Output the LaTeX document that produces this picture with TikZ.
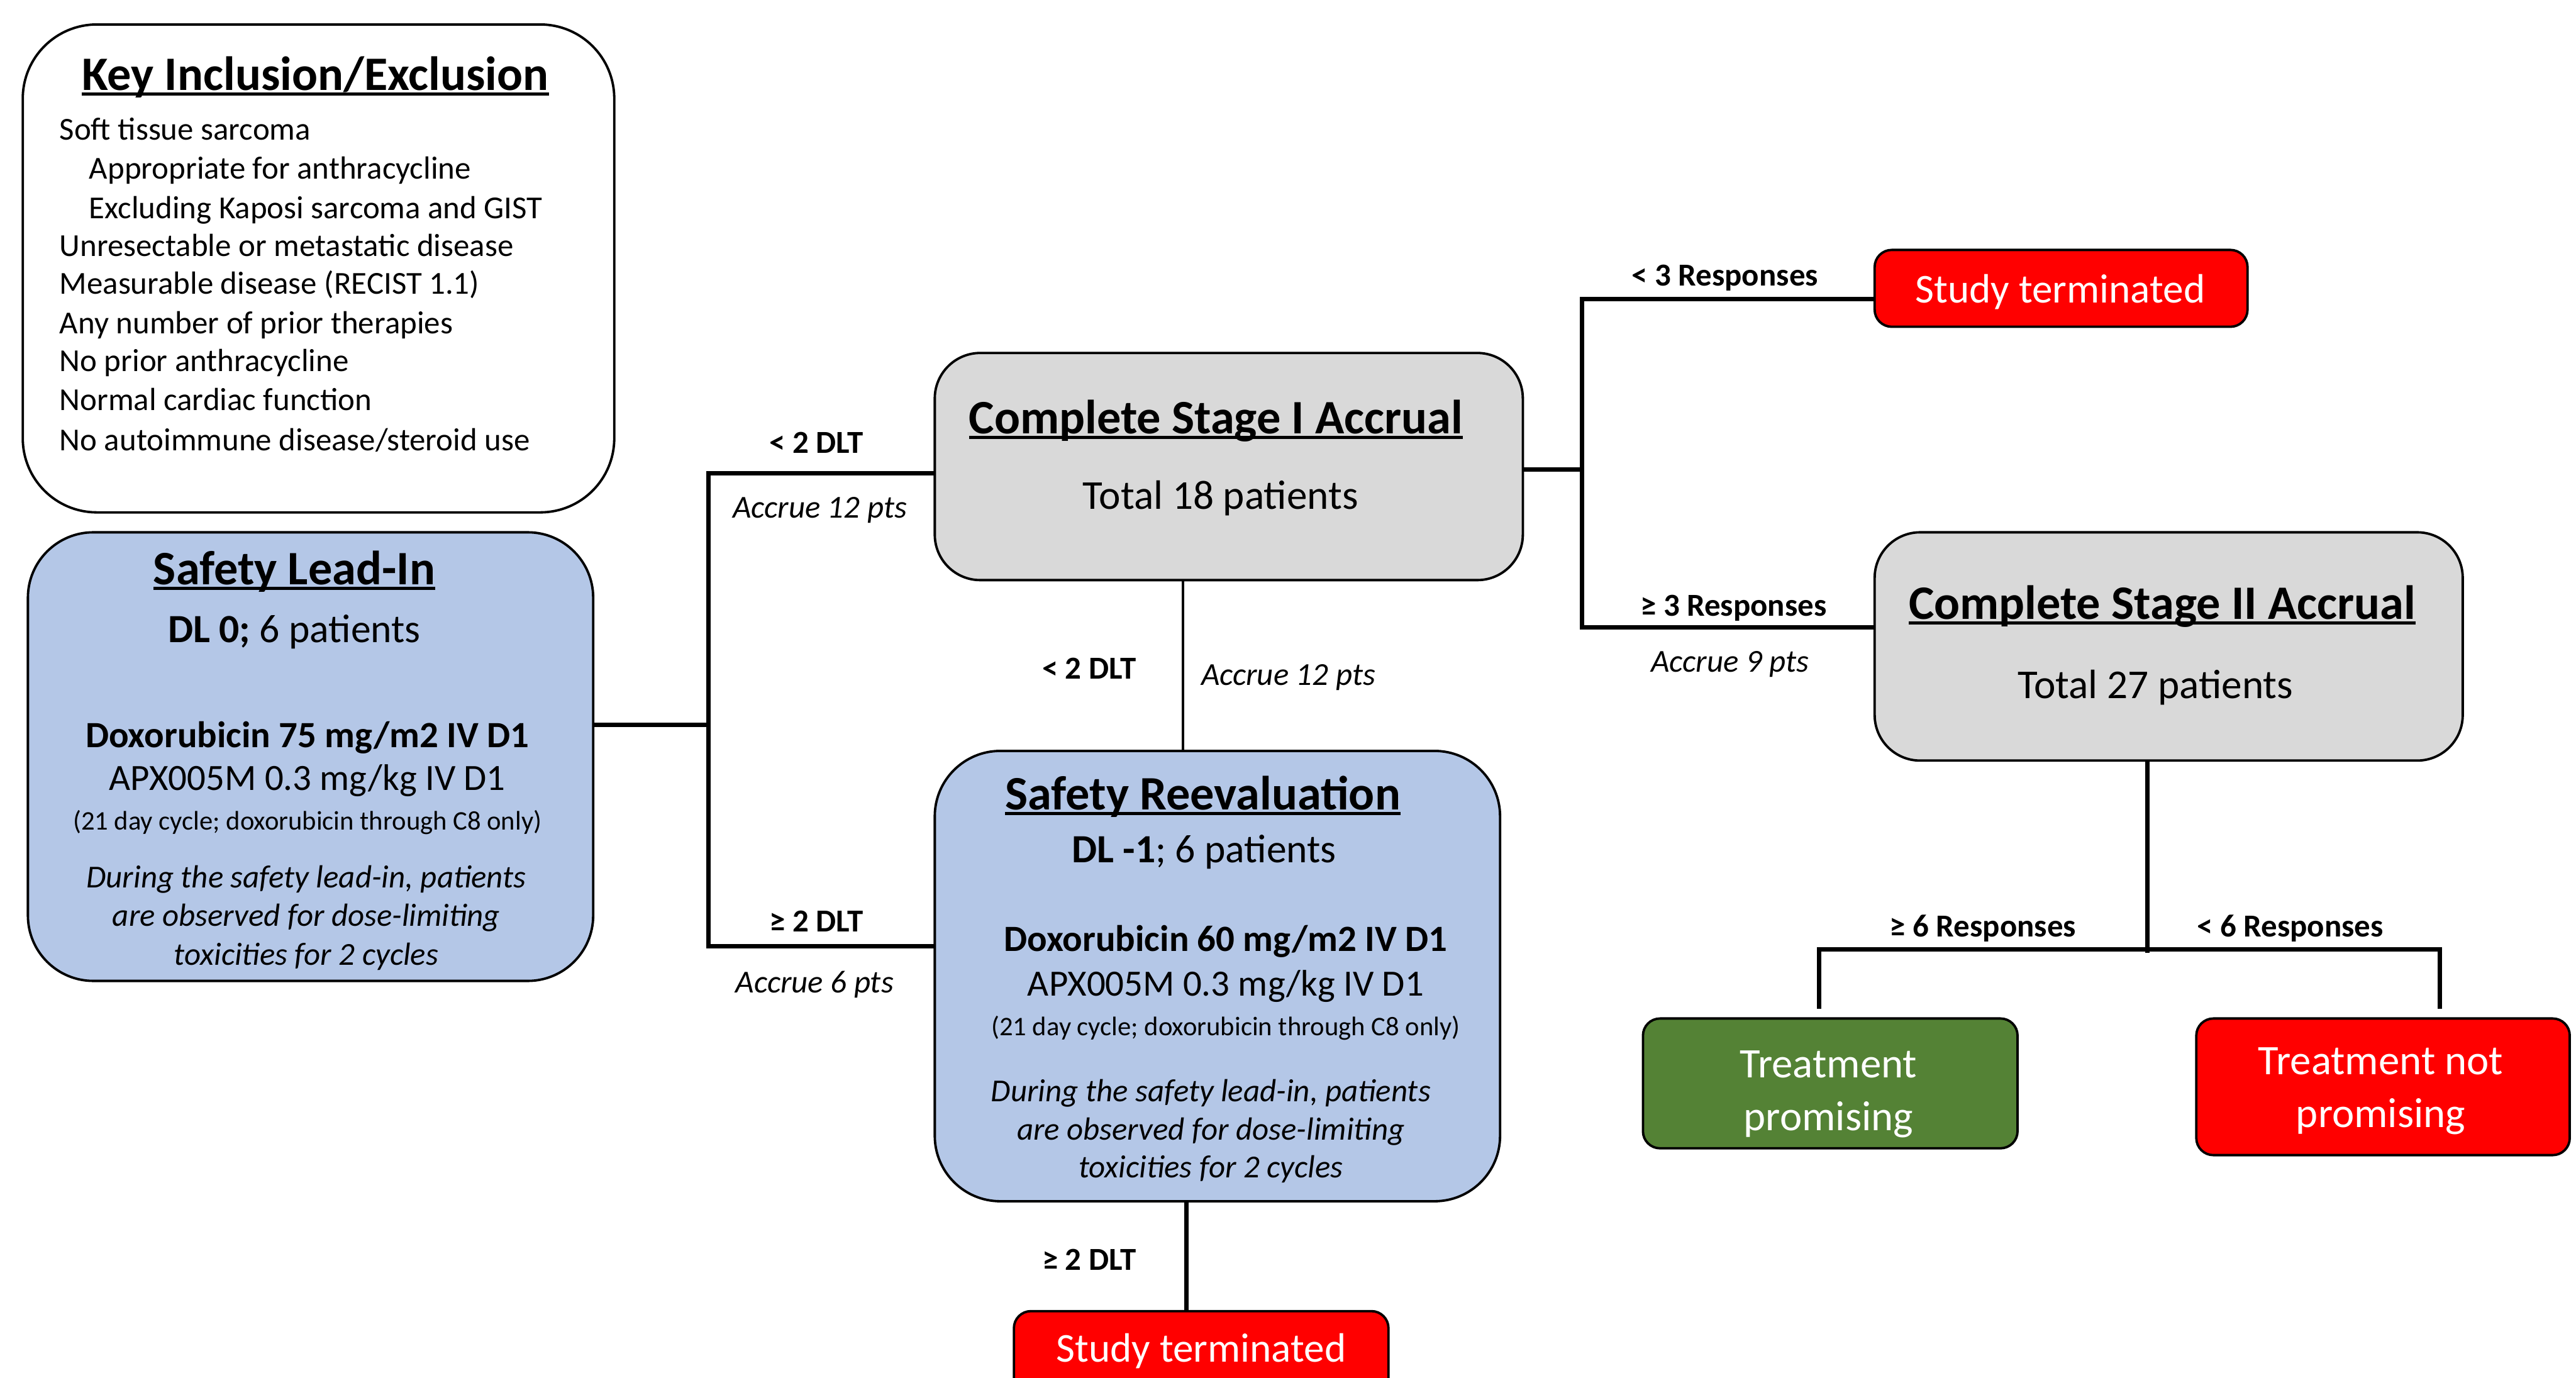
\documentclass[tikz,border=0pt]{standalone}
\usepackage{fontspec}
\setmainfont{Carlito}
\definecolor{boxblue}{HTML}{B4C7E7}
\definecolor{boxgray}{HTML}{D9D9D9}
\definecolor{boxred}{HTML}{FF0000}
\definecolor{boxgreen}{HTML}{548235}
\newcommand\myul[1]{\setbox0\hbox{#1}\rlap{\rule[-0.11em]{\wd0}{0.065em}}\box0}
\newcommand\fs[2]{\fontsize{#1}{#2}\selectfont}
\tikzset{
  box/.style={draw=black, line width=1.2pt, rounded corners=#1, inner sep=0pt, outer sep=0pt},
  conn/.style={draw=black, line width=2.2pt},
  thinconn/.style={draw=black, line width=1.4pt},
  txt/.style={inner sep=0pt, anchor=mid, align=center, yshift=-0.15cm},
  mtxt/.style={inner sep=0pt, anchor=center, align=center},
  ltxt/.style={inner sep=0pt, anchor=mid west, font=\fs{16}{19}, yshift=-0.12cm},
  lbl/.style={inner sep=0pt, anchor=mid, font=\fs{16}{19}\bfseries, yshift=-0.12cm},
  ilbl/.style={inner sep=0pt, anchor=mid, font=\fs{16}{19}\itshape, yshift=-0.12cm},
  ttl/.style={inner sep=0pt, anchor=mid, font=\fs{24}{29}\bfseries, yshift=-0.2cm},
}
\begin{document}
\begin{tikzpicture}
\useasboundingbox (0,0) rectangle (45.25,-24.20);
\fill[white] (0,0) rectangle (45.25,-24.20);

% boxes
\node[box=1.3cm, minimum width=10.39cm, minimum height=8.57cm] (key) at (5.595,-4.715) {};
\node[box=1.15cm, fill=boxblue, minimum width=9.93cm, minimum height=7.88cm] (lead) at (5.455,-13.29) {};
\node[box=0.8cm, fill=boxgray, minimum width=10.33cm, minimum height=3.99cm] (stage1) at (21.585,-8.195) {};
\node[box=1.15cm, fill=boxblue, minimum width=9.93cm, minimum height=7.91cm] (reeval) at (21.385,-17.145) {};
\node[box=0.3cm, fill=boxred, minimum width=6.58cm, minimum height=1.97cm] (term1) at (21.10,-24.015) {};
\node[box=0.3cm, fill=boxred, minimum width=6.55cm, minimum height=1.35cm] (term2) at (36.205,-5.065) {};
\node[box=0.8cm, fill=boxgray, minimum width=10.33cm, minimum height=4.01cm] (stage2) at (38.095,-11.355) {};
\node[box=0.3cm, fill=boxgreen, minimum width=6.58cm, minimum height=2.28cm] (prom) at (32.15,-19.03) {};
\node[box=0.3cm, fill=boxred, minimum width=6.56cm, minimum height=2.40cm] (notprom) at (41.86,-19.09) {};

% key inclusion text
\node[ttl] (keyt) at (5.54,-1.30) {\myul{Key Inclusion/Exclusion}};
\node[ltxt] (k1) at (1.04,-2.25) {Soft tissue sarcoma};
\node[ltxt] (k2) at (1.56,-2.94) {Appropriate for anthracycline};
\node[ltxt] (k3) at (1.56,-3.64) {Excluding Kaposi sarcoma and GIST};
\node[ltxt] (k4) at (1.04,-4.30) {Unresectable or metastatic disease};
\node[ltxt] (k5) at (1.04,-4.96) {Measurable disease (RECIST 1.1)};
\node[ltxt] (k6) at (1.04,-5.66) {Any number of prior therapies};
\node[ltxt] (k7) at (1.04,-6.32) {No prior anthracycline};
\node[ltxt] (k8) at (1.04,-7.01) {Normal cardiac function};
\node[ltxt] (k9) at (1.04,-7.71) {No autoimmune disease/steroid use};

% safety lead-in text
\node[ttl] (leadt) at (5.17,-9.99) {\myul{Safety Lead-In}};
\node[txt, font=\fs{20}{24}] (lead1) at (5.17,-11.05) {\textbf{DL 0;} 6 patients};
\node[txt, font=\fs{18.5}{22}\bfseries] (lead2) at (5.40,-12.90) {Doxorubicin 75 mg/m2 IV D1};
\node[txt, font=\fs{18.5}{22}] (lead3) at (5.40,-13.65) {APX005M 0.3 mg/kg IV D1};
\node[txt, font=\fs{13.4}{16}] (lead4) at (5.40,-14.34) {(21 day cycle; doxorubicin through C8 only)};
\node[mtxt, font=\fs{16}{19.35}\itshape] (lead5) at (5.38,-16.12) {During the safety lead-in, patients\\are observed for dose-limiting\\toxicities for 2 cycles};

% stage I text
\node[ttl] (s1t) at (21.36,-7.33) {\myul{Complete Stage I Accrual}};
\node[txt, font=\fs{20.5}{24}] (s1b) at (21.44,-8.71) {Total 18 patients};

% reevaluation text
\node[ttl] (ret) at (21.13,-13.94) {\myul{Safety Reevaluation}};
\node[txt, font=\fs{20}{24}] (re1) at (21.15,-14.92) {\textbf{DL -1}; 6 patients};
\node[txt, font=\fs{18.5}{22}\bfseries] (re2) at (21.53,-16.48) {Doxorubicin 60 mg/m2 IV D1};
\node[txt, font=\fs{18.5}{22}] (re3) at (21.53,-17.26) {APX005M 0.3 mg/kg IV D1};
\node[txt, font=\fs{13.4}{16}] (re4) at (21.53,-17.95) {(21 day cycle; doxorubicin through C8 only)};
\node[mtxt, font=\fs{16}{19.1}\itshape] (re5) at (21.27,-19.87) {During the safety lead-in, patients\\are observed for dose-limiting\\toxicities for 2 cycles};

% terminal texts
\node[txt, font=\fs{20.5}{24}, text=white] (t1t) at (21.10,-23.69) {Study terminated};
\node[txt, font=\fs{20.5}{24}, text=white] (t2t) at (36.19,-5.08) {Study terminated};
\node[ttl] (s2t) at (37.98,-10.59) {\myul{Complete Stage II Accrual}};
\node[txt, font=\fs{20.5}{24}] (s2b) at (37.86,-12.03) {Total 27 patients};
\node[mtxt, font=\fs{21}{26.4}, text=white] (pt) at (32.12,-19.22) {Treatment\\promising};
\node[mtxt, font=\fs{21}{26.4}, text=white] (npt) at (41.82,-19.16) {Treatment not\\promising};

% connectors
\coordinate (jL) at (12.44,-12.73);
\coordinate (jLt) at (12.44,-8.31);
\coordinate (jLb) at (12.44,-16.62);
\draw[conn] (lead.east |- jL) -- (jL);
\draw[conn] (stage1.west |- jLt) -- (jLt) -- (jLb) -- (reeval.west |- jLb);
\coordinate (v1) at (20.78,0);
\draw[thinconn] (stage1.south -| v1) -- (reeval.north -| v1);
\coordinate (v2) at (20.84,0);
\draw[conn] (reeval.south -| v2) -- (term1.north -| v2);
\coordinate (jR) at (27.79,-8.25);
\coordinate (jRt) at (27.79,-5.25);
\coordinate (jRb) at (27.79,-11.02);
\draw[conn] (stage1.east |- jR) -- (jR);
\draw[conn] (term2.west |- jRt) -- (jRt) -- (jRb) -- (stage2.west |- jRb);
\coordinate (v3) at (37.72,-16.74);
\draw[conn] (stage2.south -| v3) -- (v3);
\coordinate (hL) at (31.95,-16.68);
\coordinate (hR) at (42.86,-16.68);
\coordinate (dL) at (31.95,-17.72);
\coordinate (dR) at (42.86,-17.72);
\draw[conn] (dL) -- (hL) -- (hR) -- (dR);

% labels
\node[lbl] (l1) at (14.34,-7.76) {< 2 DLT};
\node[ilbl] (l2) at (14.40,-8.89) {Accrue 12 pts};
\node[lbl] (l3) at (14.34,-16.16) {≥ 2 DLT};
\node[ilbl] (l4) at (14.31,-17.23) {Accrue 6 pts};
\node[lbl] (l5) at (19.13,-11.72) {< 2 DLT};
\node[ilbl] (l6) at (22.63,-11.83) {Accrue 12 pts};
\node[lbl] (l7) at (19.13,-22.11) {≥ 2 DLT};
\node[lbl] (l8) at (30.30,-4.82) {< 3 Responses};
\node[lbl] (l9) at (30.45,-10.62) {≥ 3 Responses};
\node[ilbl] (l10) at (30.39,-11.60) {Accrue 9 pts};
\node[lbl] (l11) at (34.83,-16.25) {≥ 6 Responses};
\node[lbl] (l12) at (40.23,-16.25) {< 6 Responses};
\end{tikzpicture}
\end{document}
